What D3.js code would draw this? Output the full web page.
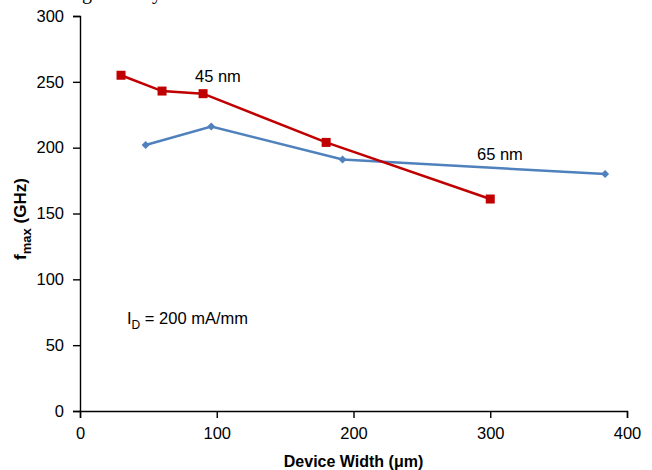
<!DOCTYPE html>
<html>
<head>
<meta charset="utf-8">
<script src="https://cdn.jsdelivr.net/npm/d3@7"></script>
<style>
body { margin: 0; background: #fff; }
svg text { font-family: "Liberation Sans", Arial, sans-serif; }
</style>
</head>
<body>
<svg id="chart" width="652" height="470"></svg>
<script>
// 45 nm devices
var width45 = [30, 60, 90, 180, 300];
var fmax45 = [255, 243, 241, 204, 161];
// 65 nm devices
var width65 = [48, 96, 192, 384];
var fmax65 = [202, 216, 191, 180];

var xTicks = [0, 100, 200, 300, 400];
var yTicks = [0, 50, 100, 150, 200, 250, 300];

var margin = {top: 16, left: 80, right: 25, bottom: 59},
	w = 652 - margin.left - margin.right,
	h = 470 - margin.top - margin.bottom;

var svg = d3.select("#chart");

// bit of the text line above, cut off by the crop
svg.append("text")
	.attr("x", 72).attr("y", -1)
	.style("font-family", "'Liberation Serif', serif")
	.style("font-size", "20px")
	.text("ng");
svg.append("text")
	.attr("x", 152).attr("y", -1)
	.style("font-family", "'Liberation Serif', serif")
	.style("font-size", "20px")
	.text("y");

var g = svg.append("g")
	.attr("transform", "translate(" + margin.left + "," + margin.top + ")");

var x = d3.scaleLinear().domain([0, 400]).range([0, w]);
var y = d3.scaleLinear().domain([0, 300]).range([h, 0]);

var xAxis = g.append("g")
	.attr("transform", "translate(0," + h + ")")
	.call(d3.axisBottom(x).tickValues(xTicks).tickSize(7).tickPadding(9));
var yAxis = g.append("g")
	.call(d3.axisLeft(y).tickValues(yTicks).tickSize(7).tickPadding(9));

[xAxis, yAxis].forEach(function(a) {
	a.select(".domain").attr("stroke", "#000").attr("stroke-width", 1.4);
	a.selectAll(".tick line").attr("stroke", "#000").attr("stroke-width", 1.4);
	a.selectAll(".tick text")
		.style("font-size", "16.5px")
		.style("font-family", "'Liberation Sans', Arial, sans-serif")
		.attr("fill", "#000");
});

var line = d3.line()
	.x(function(d) { return x(d[0]); })
	.y(function(d) { return y(d[1]); });

var data65 = width65.map(function(v, i) { return [v, fmax65[i]]; });
var data45 = width45.map(function(v, i) { return [v, fmax45[i]]; });

g.append("path")
	.datum(data65)
	.attr("d", line)
	.attr("fill", "none")
	.attr("stroke", "#4F81BD")
	.attr("stroke-width", 2.5);

g.selectAll(".diamond")
	.data(data65)
	.enter()
	.append("path")
	.attr("class", "diamond")
	.attr("d", "M0,-4L4,0L0,4L-4,0Z")
	.attr("transform", function(d) { return "translate(" + x(d[0]) + "," + y(d[1]) + ")"; })
	.attr("fill", "#4F81BD");

g.append("path")
	.datum(data45)
	.attr("d", line)
	.attr("fill", "none")
	.attr("stroke", "#C00000")
	.attr("stroke-width", 2.5);

g.selectAll(".square")
	.data(data45)
	.enter()
	.append("rect")
	.attr("class", "square")
	.attr("x", function(d) { return x(d[0]) - 4.5; })
	.attr("y", function(d) { return y(d[1]) - 4.5; })
	.attr("width", 9)
	.attr("height", 9)
	.attr("fill", "#C00000");

// series labels
g.append("text")
	.attr("x", 115).attr("y", 66)
	.style("font-size", "16.5px")
	.text("45 nm");
g.append("text")
	.attr("x", 397).attr("y", 144)
	.style("font-size", "16.5px")
	.text("65 nm");

var note = g.append("text")
	.attr("x", 47).attr("y", 308)
	.style("font-size", "16.5px");
note.append("tspan").text("I");
note.append("tspan").attr("dy", 5).style("font-size", "12px").text("D");
note.append("tspan").attr("dy", -5).text(" = 200 mA/mm");

// axis titles
g.append("text")
	.attr("x", w / 2).attr("y", h + 56)
	.attr("text-anchor", "middle")
	.style("font-size", "16px")
	.style("font-weight", "bold")
	.text("Device Width (\u03bcm)");

var yt = svg.append("text")
	.attr("transform", "translate(26," + 219 + ") rotate(-90)")
	.attr("text-anchor", "middle")
	.style("font-size", "17px")
	.style("font-weight", "bold");
yt.append("tspan").text("f");
yt.append("tspan").attr("dy", 5).style("font-size", "13px").text("max");
yt.append("tspan").attr("dy", -5).text(" (GHz)");
</script>
</body>
</html>
